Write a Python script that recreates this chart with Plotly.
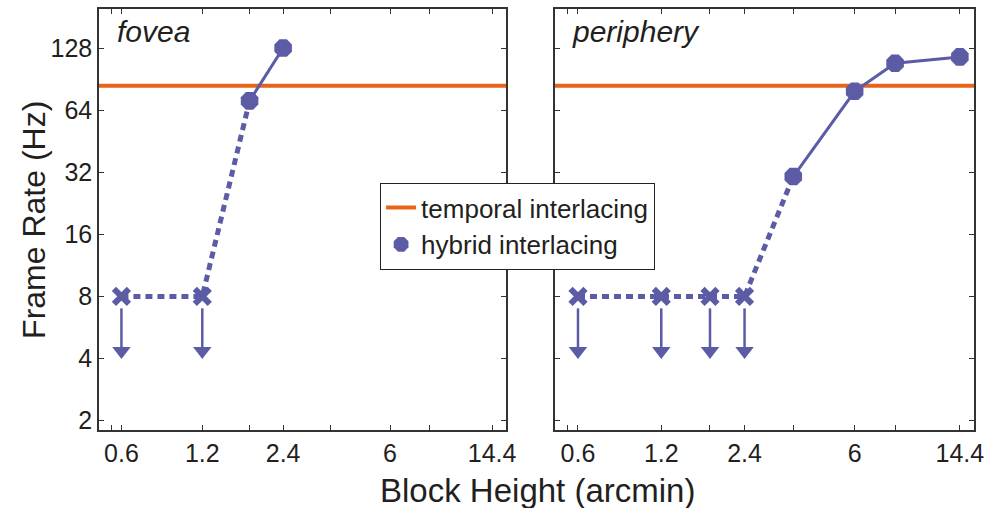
import math
import plotly.graph_objects as go

# ---- data ----
temporal_rate = 84  # Hz, temporal interlacing threshold (both panels)

fovea_bound_x = [0.6, 1.2]          # arcmin, upper-bound points
fovea_bound_y = [8, 8]              # Hz
fovea_meas_x = [1.8, 2.4]
fovea_meas_y = [71, 128]

periph_bound_x = [0.6, 1.2, 1.8, 2.4]
periph_bound_y = [8, 8, 8, 8]
periph_meas_x = [3.6, 6, 8.4, 14.4]
periph_meas_y = [30.5, 79, 108, 116]

arrow_top = 7.0
arrow_tip = 4.35

x_tickvals = [0.55, 0.6, 1.2, 1.8, 2.4, 3.6, 6, 8.4, 14.4]
x_ticktext = ["", "0.6", "1.2", "", "2.4", "", "6", "", "14.4"]
y_tickvals = [2, 4, 8, 16, 32, 64, 128]
y_ticktext = ["2", "4", "8", "16", "32", "64", "128"]

PURPLE = "#5b5ba6"
ORANGE = "#e8641b"
TXT = "#231f20"
FONT = "Liberation Sans, Arial, sans-serif"

fig = go.Figure()

def add_panel(xa, ya, bx, by, mx, my, show_legend):
    fig.add_trace(go.Scatter(x=[0.45, 20], y=[temporal_rate, temporal_rate], mode="lines",
                             line=dict(color=ORANGE, width=4), name="temporal interlacing",
                             showlegend=show_legend, xaxis=xa, yaxis=ya))
    fig.add_trace(go.Scatter(x=bx + [mx[0]], y=by + [my[0]], mode="lines",
                             line=dict(color=PURPLE, width=5, dash="7px,5px"),
                             showlegend=False, xaxis=xa, yaxis=ya))
    fig.add_trace(go.Scatter(x=mx, y=my, mode="lines", line=dict(color=PURPLE, width=3),
                             showlegend=False, xaxis=xa, yaxis=ya))
    ax, ay = [], []
    for x in bx:
        ax += [x, x, None]
        ay += [arrow_top, arrow_tip, None]
    fig.add_trace(go.Scatter(x=ax, y=ay, mode="lines",
                             line=dict(color=PURPLE, width=2.5),
                             showlegend=False, xaxis=xa, yaxis=ya))
    fig.add_trace(go.Scatter(x=bx, y=[arrow_tip] * len(bx), mode="markers",
                             marker=dict(symbol="triangle-down", size=16, color=PURPLE,
                                         line=dict(width=0)),
                             showlegend=False, xaxis=xa, yaxis=ya))
    fig.add_trace(go.Scatter(x=bx, y=by, mode="markers",
                             marker=dict(symbol="x-thin", size=15, color=PURPLE,
                                         line=dict(color=PURPLE, width=6)),
                             showlegend=False, xaxis=xa, yaxis=ya))
    fig.add_trace(go.Scatter(x=mx, y=my, mode="markers", name="hybrid interlacing",
                             marker=dict(symbol="octagon", size=19, color=PURPLE),
                             showlegend=show_legend, xaxis=xa, yaxis=ya))

add_panel("x", "y", fovea_bound_x, fovea_bound_y, fovea_meas_x, fovea_meas_y, True)
add_panel("x2", "y2", periph_bound_x, periph_bound_y, periph_meas_x, periph_meas_y, False)

xr = [math.log10(0.495), math.log10(16.2)]
yr = [math.log10(1.8), math.log10(198)]

axis_common = dict(type="log", showgrid=False, zeroline=False, showline=True,
                   linecolor="#333", linewidth=1.5, mirror="ticks", ticks="inside",
                   ticklen=5, tickcolor="#333", automargin=False,
                   tickfont=dict(family=FONT, size=25, color=TXT))

fig.update_layout(
    width=990, height=508,
    margin=dict(l=99, r=16, t=9, b=78),
    plot_bgcolor="white", paper_bgcolor="white",
    font=dict(family=FONT, color=TXT),
    xaxis=dict(domain=[0, 0.465], range=xr, tickvals=x_tickvals, ticktext=x_ticktext,
               anchor="y", **axis_common),
    xaxis2=dict(domain=[0.521, 1], range=xr, tickvals=x_tickvals, ticktext=x_ticktext,
                anchor="y2", **axis_common),
    yaxis=dict(range=yr, tickvals=y_tickvals, ticktext=y_ticktext, anchor="x",
               **axis_common),
    yaxis2=dict(range=yr, tickvals=y_tickvals, showticklabels=False, anchor="x2",
                **axis_common),
    legend=dict(x=0.321, y=0.587, xanchor="left", yanchor="top",
                bordercolor="#222", borderwidth=1.2, bgcolor="white",
                font=dict(family=FONT, size=26, color=TXT),
                itemwidth=30, tracegroupgap=0),
    annotations=[
        dict(text="Block Height (arcmin)", xref="paper", yref="paper", x=0.5006, y=-0.143,
             xanchor="center", yanchor="middle", showarrow=False,
             font=dict(family=FONT, size=33, color=TXT)),
        dict(text="Frame Rate (Hz)", xref="paper", yref="paper", x=-0.075, y=0.5,
             xanchor="center", yanchor="middle", textangle=-90, showarrow=False,
             font=dict(family=FONT, size=32, color=TXT)),
        dict(text="<i>fovea</i>", xref="x domain", yref="y domain", x=0.04, y=0.99,
             xanchor="left", yanchor="top", showarrow=False,
             font=dict(family=FONT, size=30, color=TXT)),
        dict(text="<i>periphery</i>", xref="x2 domain", yref="y2 domain", x=0.035, y=0.99,
             xanchor="left", yanchor="top", showarrow=False,
             font=dict(family=FONT, size=30, color=TXT)),
    ],
)

fig.write_html("out.html", config={"displayModeBar": False},
               post_script="document.body.style.margin='0';")
